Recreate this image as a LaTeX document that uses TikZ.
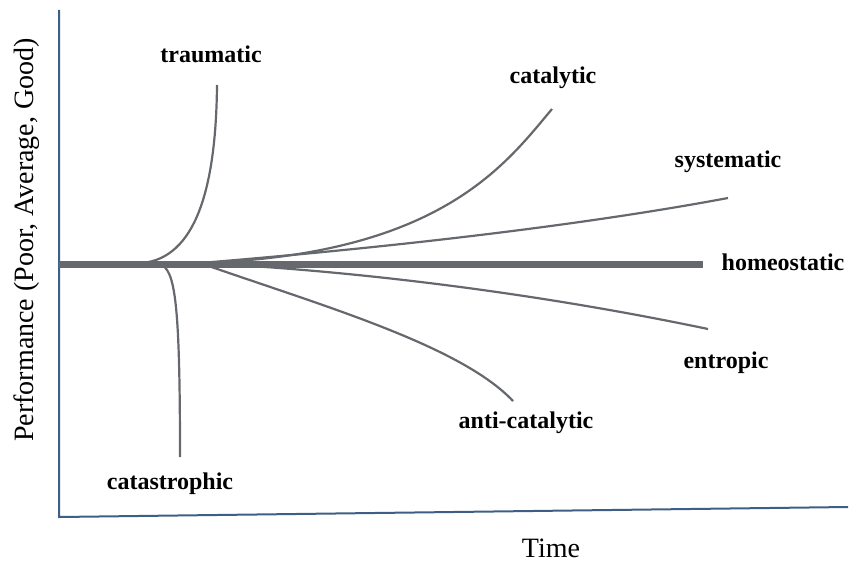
\documentclass[tikz,border=0pt]{standalone}
\usepackage{fontspec}
\setmainfont{Liberation Serif}
\usepackage{tikz}
\definecolor{axisblue}{HTML}{3D5F85}
\definecolor{curvegray}{HTML}{65686C}
\tikzset{
	curve/.style={curvegray, line width=1.1pt},
	kind/.style={font=\fontsize{12}{14}\selectfont\bfseries},
	axislabel/.style={font=\fontsize{14}{16}\selectfont}
}

\begin{document}
\begin{tikzpicture}[x=0.5pt, y=-0.5pt]
				\useasboundingbox (0,0) rectangle (849,561);
				% axes
				\draw[axisblue, line width=1pt] (59,10) -- (59,517) -- (848,507);
				\node[axislabel, rotate=90] (perf) at (27,240) {Performance (Poor, Average, Good)};
				\node[axislabel] (time) at (551,548) {Time};
				% curves above
				\draw[curve] (142,263) .. controls (195,258) and (216,190) .. (217,85);
				\draw[curve] (200,263) .. controls (440,255) and (505,165) .. (552,109);
				\draw[curve] (200,263) .. controls (420,245) and (600,222) .. (728,198);
				% curves below
				\draw[curve] (160,264) .. controls (175,270) and (180,300) .. (180,457);
				\draw[curve] (200,263) .. controls (320,305) and (460,345) .. (513,401);
				\draw[curve] (200,263) .. controls (380,272) and (560,298) .. (708,329);
				% steady state
				\draw[curvegray, line width=3.5pt] (59,264) -- (703,264);
				% labels
				\node[kind] (traumatic) at (211,54) {traumatic};
				\node[kind] (catalytic) at (553,78) {catalytic};
				\node[kind] (systematic) at (728,162) {systematic};
				\node[kind] (homeostatic) at (783,262) {homeostatic};
				\node[kind] (entropic) at (726,363) {entropic};
				\node[kind] (anticat) at (526,423) {anti-catalytic};
				\node[kind] (catastrophic) at (170,484) {catastrophic};
			\end{tikzpicture}
\end{document}
